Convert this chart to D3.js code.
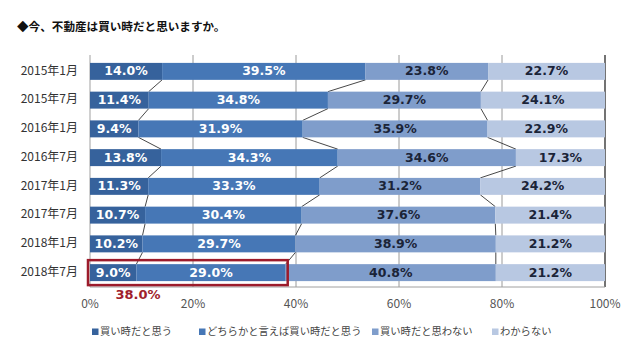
<!DOCTYPE html>
<html><head><meta charset="utf-8">
<script src="https://cdn.jsdelivr.net/npm/d3@7"></script>
<style>body{margin:0;background:#fff}svg{display:block}</style>
</head><body><svg id="c" width="640" height="360"></svg>
<script>
const categories = ["2015年1月","2015年7月","2016年1月","2016年7月","2017年1月","2017年7月","2018年1月","2018年7月"];
const seriesNames = ["買い時だと思う","どちらかと言えば買い時だと思う","買い時だと思わない","わからない"];
const buyNow = [14.0,11.4,9.4,13.8,11.3,10.7,10.2,9.0];
const ratherBuy = [39.5,34.8,31.9,34.3,33.3,30.4,29.7,29.0];
const notBuy = [23.8,29.7,35.9,34.6,31.2,37.6,38.9,40.8];
const dontKnow = [22.7,24.1,22.9,17.3,24.2,21.4,21.2,21.2];
const xTicks = [0,20,40,60,80,100];
const highlightLabel = "38.0%";
const title = "◆今、不動産は買い時だと思いますか。";

const colors = ["#36629c","#4677b6","#7f9dcb","#b8c8e2"];
const labelColors = ["#fff","#fff","#1b2438","#1b2438"];
const seriesVals = [buyNow, ratherBuy, notBuy, dontKnow];

const svg = d3.select("#c");
const m = {l:90, r:605, t:57, b:287};
const x = d3.scaleLinear().domain([0,100]).range([m.l, m.r]).clamp(true);
const y = d3.scaleBand().domain(categories).range([m.t, m.b]).paddingInner(0.41).paddingOuter(0.205);

svg.append("text").attr("x",17).attr("y",31).text(title)
  .attr("font-family","'Noto Sans CJK JP'").attr("font-weight","bold").attr("font-size",11.6).attr("fill","#111");

// gridlines
svg.append("g").selectAll("line").data(xTicks.slice(1,-1)).join("line")
  .attr("x1",d=>x(d)).attr("x2",d=>x(d)).attr("y1",m.t-2).attr("y2",m.b)
  .attr("stroke","#9a9a9a").attr("stroke-width",1);
svg.append("line").attr("x1",m.l).attr("x2",m.l).attr("y1",m.t-2).attr("y2",m.b).attr("stroke","#a0a0a0");
svg.append("line").attr("x1",m.r).attr("x2",m.r).attr("y1",m.t-2).attr("y2",m.b).attr("stroke","#444").attr("stroke-width",1.5);
svg.append("line").attr("x1",m.l).attr("x2",m.r).attr("y1",m.b).attr("y2",m.b).attr("stroke","#a0a0a0");

// stacked data
const rows = categories.map((c,i)=>{
  let acc=0;
  return seriesVals.map((s,k)=>{const o={cat:c,k,v:s[i],x0:acc,x1:acc+s[i]}; acc+=s[i]; return o;});
});

// connector lines
const conn = svg.append("g");
for(let i=0;i<categories.length-1;i++){
  for(let k=0;k<3;k++){
    conn.append("line")
      .attr("x1",x(rows[i][k].x1)).attr("y1",y(categories[i])+y.bandwidth())
      .attr("x2",x(rows[i+1][k].x1)).attr("y2",y(categories[i+1]))
      .attr("stroke","#333").attr("stroke-width",0.9);
  }
}

const segs = svg.append("g").selectAll("g").data(rows.flat()).join("g");
segs.append("rect").attr("x",d=>x(d.x0)).attr("width",d=>x(d.x1)-x(d.x0))
  .attr("y",d=>y(d.cat)).attr("height",y.bandwidth()).attr("fill",d=>colors[d.k]);
segs.append("text").attr("x",d=>(x(d.x0)+x(d.x1))/2).attr("y",d=>y(d.cat)+y.bandwidth()/2+0.5)
  .attr("text-anchor","middle").attr("dominant-baseline","middle")
  .attr("font-family","'DejaVu Sans'").attr("font-weight","bold").attr("font-size",12.5)
  .attr("fill",d=>labelColors[d.k]).text(d=>d.v.toFixed(1)+"%");

// y labels
svg.append("g").selectAll("text").data(categories).join("text")
  .attr("x",78).attr("y",d=>y(d)+y.bandwidth()/2).attr("text-anchor","end").attr("dominant-baseline","middle")
  .attr("font-family","'Noto Sans CJK JP'").attr("font-size",12).attr("fill","#333").text(d=>d);

// x tick labels
svg.append("g").selectAll("text").data(xTicks).join("text")
  .attr("x",d=>x(d)).attr("y",305).attr("text-anchor","middle").attr("dominant-baseline","middle")
  .attr("font-family","'Noto Sans CJK JP'").attr("font-size",12).attr("fill","#555").text(d=>d+"%");

// highlight
const last = rows[rows.length-1];
svg.append("rect").attr("x",x(0)-2).attr("y",y(categories[7])-4)
  .attr("width",x(last[1].x1)-x(0)+4).attr("height",y.bandwidth()+8)
  .attr("fill","none").attr("stroke","#9c1b2b").attr("stroke-width",2.5);
svg.append("text").attr("x",138).attr("y",295).attr("text-anchor","middle").attr("dominant-baseline","middle")
  .attr("font-family","'DejaVu Sans'").attr("font-weight","bold").attr("font-size",13).attr("fill","#a01e2c").text(highlightLabel);

// legend
const legX = [92,199,372,492];
const lg = svg.append("g").selectAll("g").data(seriesNames).join("g").attr("transform",(d,i)=>`translate(${legX[i]},332)`);
lg.append("rect").attr("x",0).attr("y",-3.5).attr("width",6.5).attr("height",6.5).attr("fill",(d,i)=>colors[i]);
lg.append("text").attr("x",8).attr("y",0).attr("dominant-baseline","middle")
  .attr("font-family","'Noto Sans CJK JP'").attr("font-size",10.3).attr("fill","#444").text(d=>d);
</script></body></html>
